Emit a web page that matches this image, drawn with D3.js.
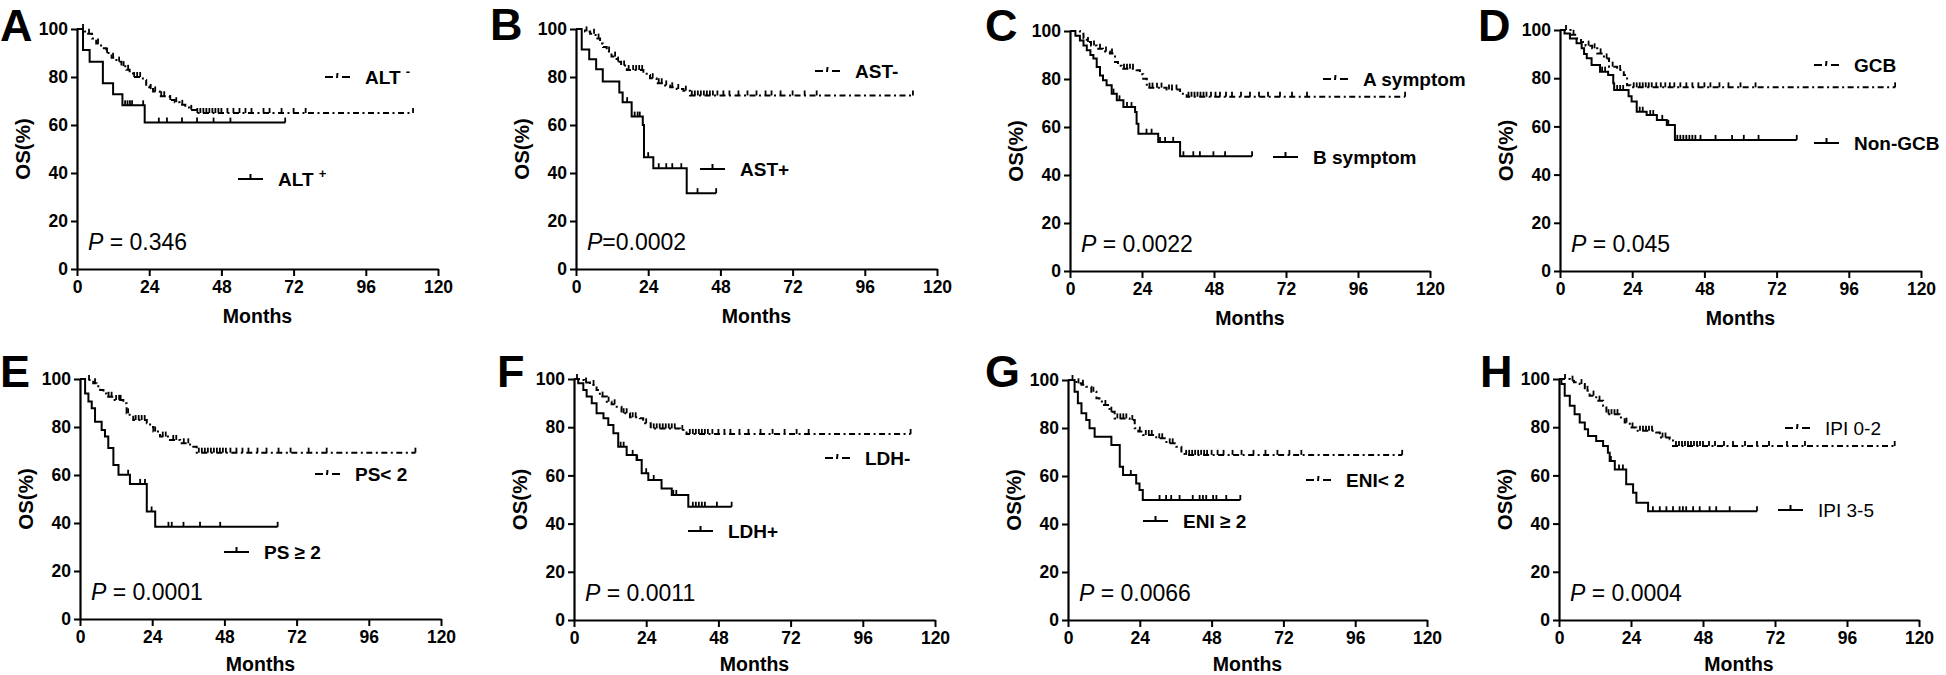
<!doctype html>
<html lang="en">
<head>
<meta charset="utf-8">
<title>Overall survival by subgroup</title>
<style>
  body { margin: 0; background: #fff; }
  svg { display: block; font-family: "Liberation Sans", Arial, sans-serif; }
</style>
</head>
<body>
<script src="https://d3js.org/d3.v7.min.js"></script>
<script>
// ---- data: [month, OS%] steps, censor months ----
var xTicks = [0, 24, 48, 72, 96, 120];
var yTicks = [0, 20, 40, 60, 80, 100];

var altNegSteps = [[0,100],[2.5,99],[3.7,98],[5,96],[6.4,94],[8,92],[9.8,90],[11.5,88],[13.1,86.4],[14.8,84.5],[16.4,83],[17.5,81.5],[18.6,80],[21.9,78.8],[23,76],[24,75],[25.3,74],[27.5,72],[30.8,70.4],[32.5,69.5],[34.1,68.4],[36,67.3],[37.5,66.3],[39.7,65]];
var altNegCensor = [2,4,7,10,12,14,15.5,17,19,20,21,24.5,26,28,29,31,33,35,38,40,41,42,43,44,45,46,47,48,50,52,54,56,58,62,64,68,72,76,111.7];
var altPosSteps = [[0,100],[2,91.3],[4.2,86.4],[8.6,77.4],[12,72.8],[15.1,68.2],[22.5,61]];
var altPosCensor = [16,16.8,17.6,18.3,22,27.2,29.9,34.9,39.9,45.4,51,69.2];

var astNegSteps = [[0,100],[3,99],[4.7,98],[6.5,96],[8,94],[9,92.5],[10.2,90.6],[11.8,88.5],[13.5,86.4],[15,84.8],[16.9,82.9],[22.4,82.2],[23.5,80.8],[24.6,79.5],[26.8,77.4],[29,76.5],[31.3,75.7],[33.5,75],[35.7,74.3],[37.9,72.3]];
var astNegCensor = [3.5,6,7.5,11,13,14,16,17.5,19,20,21,22,25.5,27.5,28.5,30,32,34,36.5,38.5,39.5,40.5,41.5,42.5,43.5,44.5,45.5,47,49,51,54,57,60,63,65,68,72,76,80,112];
var astPosSteps = [[0,100],[1.9,91.5],[4.4,87.4],[6.7,83.2],[8.9,78.1],[14.4,73.5],[15.5,69.5],[18.5,63.5],[22.2,60],[22.6,46.6],[25.7,42],[36.8,31.6]];
var astPosCensor = [17,19.5,20.5,21.2,24,27.5,30,32,35,40.4,46.6];

var aSymSteps = [[0,100],[3.3,98.9],[4.5,97],[5.6,95.4],[7,94],[8.9,92.6],[11,91.5],[13.3,90.6],[15,87.1],[16,85.5],[17.2,84.3],[22.2,83.6],[23.3,82],[24.4,80.1],[25.6,76.4],[32.2,75.6],[36.7,73.9],[38.9,72.6]];
var aSymCensor = [6,8,10,12,14,18,19,20,21,26.5,27.5,29,30.5,33,34,35.5,39.5,40.5,41.5,42.5,43.5,44.5,45.5,47,48.5,50,52,54,57,60,63,66,70,74,79,111.7];
var bSymSteps = [[0,100],[1.8,98],[3.3,96],[4.5,94],[5.6,92],[6.8,90],[7.8,88.5],[8.9,85],[10,81.5],[11,79.5],[12.2,77.4],[13.9,73.9],[15.6,71.1],[17.8,68.3],[21.7,66.3],[22.2,61.4],[22.8,57.2],[29.4,53.8],[36.7,47.8]];
var bSymCensor = [14.5,16.5,19,20.5,25.5,27.2,30,31.7,34.4,37.8,41.1,43.3,47.8,51.7,60.7];

var gcbSteps = [[0,100],[3.5,98],[5.5,96.5],[7,95],[8.5,93.5],[10.7,92.4],[12.4,90.3],[14.6,88.2],[16.3,84.8],[19,83.4],[21.2,81.3],[22.3,77.1],[23.4,76.2]];
var gcbCensor = [2,4.5,9.5,11.5,13.5,15.5,17.5,20,24.5,25.5,26.5,27.5,28.5,29.5,30.5,32,33.5,35,36.5,38,40,42,44,46,48,50,53,56,60,65,111.4];
var nonGcbSteps = [[0,100],[1.5,98.5],[3.3,96.5],[5.5,94.5],[7.2,92.4],[8,90],[8.9,88.3],[10.5,85.5],[13.3,82.7],[16,81.3],[17.7,77.9],[18,75.1],[22.8,72.5],[23.8,70.3],[25.5,66.1],[28.8,64.7],[32.2,62.7],[35.5,60.6],[38.2,54.4]];
var nonGcbCensor = [14,15,19,20,21,26.5,27.5,30,31,34,36,39,40,41,42,43,44,45,46.7,51.7,57.2,61.1,66,78.7];

var psLowSteps = [[0,100],[2.2,99.6],[4.4,98.2],[5.5,97],[6.7,95.4],[7.8,94],[8.9,92.6],[11.1,91.3],[14.4,89.9],[15.5,85.7],[16.5,84.3],[17.7,82.9],[22.2,81.6],[23.3,80],[24.4,78.1],[26.6,76],[29.9,74.6],[33.3,73.2],[36.6,71.8],[38.8,69.3]];
var psLowCensor = [3,5,9.5,10.5,12,13,13.5,16,18.5,19.5,20.5,21.5,25,27.5,28.5,31,32,34.5,36,39.5,40.5,41.5,42.5,43.5,44.5,45.5,46.5,47.5,48.5,50,52,54,56,59,62,66,70,76,82,111.5];
var psHighSteps = [[0,100],[1.7,94],[2.8,90.6],[3.9,87.8],[5,82.2],[7.2,78.8],[8.3,76],[9.4,71.2],[11.1,64.2],[12.8,60.1],[16.6,56.3],[22.2,44.8],[25,38.4]];
var psHighCensor = [16,20,21.6,23.8,29.4,30.5,34.4,39.9,46.6,65.7];

var ldhNegSteps = [[0,100],[2,99.6],[3.5,98.5],[5.3,97.5],[7.5,95.4],[8.6,92.7],[10.9,90.6],[12.5,89.5],[14.2,88.5],[15.8,85.8],[18.6,84.1],[21.9,83.7],[23,81.6],[25.5,79.5],[35.2,78.8],[37.4,77.2]];
var ldhNegCensor = [1,4,6.5,9.5,11.5,13.5,16.5,17.5,19.5,20.5,24,26.5,27.5,28.5,29.5,30.5,31.5,32.5,33.5,36,38.5,39.5,40.5,41.5,42.5,43.5,44.5,46,48,50,52,55,58,62,66,70,74,78,111.9];
var ldhPosSteps = [[0,100],[1.4,98.2],[3.1,95.4],[4.2,92.7],[5.9,89.9],[7.5,85.8],[9.8,83.7],[11.4,80.9],[13.1,77.5],[14.7,71.9],[17.5,68.5],[20.8,66.4],[22.5,60.9],[24.7,58.1],[29.1,54.6],[32.5,51.9],[38,47]];
var ldhPosCensor = [15.5,16.5,19.5,21,24,26.5,33,34,39.5,40.5,41.5,42.5,43.5,47.5,52.4];

var eniLowSteps = [[0,100],[2.8,98.6],[4.5,98],[6.1,97.2],[7.8,95.1],[9.5,92.4],[10.5,91],[11.7,89.6],[13.9,86.8],[15.6,84],[20.6,83.3],[22.3,79.9],[23.5,78.5],[25.1,77.1],[29.5,75.7],[32.9,73.6],[36.2,72.2],[37.9,69.2],[39,68.8]];
var eniLowCensor = [1.5,3.5,5,8.5,12.5,14.5,16.5,17.5,18.5,19.5,21.5,24,26,27,28,30.5,31.5,34,35,39.5,40.5,41.5,42.5,43.5,44.5,45.5,46.5,48,50,52,55,58,62,66,70,74,78,111.7];
var eniHighSteps = [[0,100],[2.2,95.1],[3.3,90.3],[4.5,86.1],[6.1,83.3],[7.2,79.9],[8.9,76.4],[14.5,72.9],[17.3,63.9],[18.4,60.4],[22.8,56.9],[23.9,54.2],[25,50]];
var eniHighCensor = [21,30.6,32.8,34.5,37.3,41.7,44,45.1,46.2,48.5,49.6,52.9,57.6];

var ipiLowSteps = [[0,100],[3.6,99.3],[5,98.6],[6.9,97.9],[8.6,95.1],[10.2,93.1],[12.4,91],[14.7,88.9],[15.8,85.4],[20.2,84],[21.9,81.9],[23.6,79.9],[25.8,78.5],[32.4,77.8],[33.6,75.7],[36.9,75],[38,72.2]];
var ipiLowCensor = [2,4.5,7.5,9.5,11.5,13.5,16.5,17.5,18.5,19.5,22.5,24.5,27,28,29,30,31,34.5,35.5,39,40,41,42,43,44,45,46,47,48,50,52,55,58,62,66,70,76,82,111.9];
var ipiHighSteps = [[0,100],[0.8,97.9],[1.9,93.1],[3.6,88.9],[5.2,85.4],[6.9,81.9],[8.6,79.2],[9.7,76.4],[12.4,74.3],[14.7,72.2],[16.3,69.4],[16.9,66],[18.6,62.5],[22.4,56.3],[24.7,52.8],[25.8,48.6],[29.7,45.1]];
var ipiHighCensor = [17.3,20,21.3,31.3,33.6,35.8,38,40.2,41.3,42.4,44.7,46.9,50.2,52.4,56.9,66];

// ---- panels: layout + which arrays they draw ----
var panels = [
  {letter: "A", lx: 0, ly: 41, x0: 77, x1: 438, y0: 29, y1: 269, p: "0.346", eq: " = ",
   curves: [
     {steps: altNegSteps, censor: altNegCensor, dashed: true, label: "ALT ", sup: "-", lgx: 248, lgy: 48},
     {steps: altPosSteps, censor: altPosCensor, dashed: false, label: "ALT ", sup: "+", lgx: 161, lgy: 150}]},
  {letter: "B", lx: 490, ly: 40, x0: 576, x1: 937, y0: 29, y1: 269, p: "0.0002", eq: "=",
   curves: [
     {steps: astNegSteps, censor: astNegCensor, dashed: true, label: "AST-", lgx: 239, lgy: 42},
     {steps: astPosSteps, censor: astPosCensor, dashed: false, label: "AST+", lgx: 124, lgy: 140}]},
  {letter: "C", lx: 985, ly: 41, x0: 1070, x1: 1430, y0: 31, y1: 271, p: "0.0022", eq: " = ",
   curves: [
     {steps: aSymSteps, censor: aSymCensor, dashed: true, label: "A symptom", lgx: 253, lgy: 48},
     {steps: bSymSteps, censor: bSymCensor, dashed: false, label: "B symptom", lgx: 203, lgy: 126}]},
  {letter: "D", lx: 1478, ly: 41, x0: 1560, x1: 1921, y0: 30, y1: 271, p: "0.045", eq: " = ",
   curves: [
     {steps: gcbSteps, censor: gcbCensor, dashed: true, label: "GCB", lgx: 254, lgy: 35},
     {steps: nonGcbSteps, censor: nonGcbCensor, dashed: false, label: "Non-GCB", lgx: 254, lgy: 113}]},
  {letter: "E", lx: 0, ly: 387, x0: 80, x1: 441, y0: 379, y1: 619, p: "0.0001", eq: " = ",
   curves: [
     {steps: psLowSteps, censor: psLowCensor, dashed: true, label: "PS< 2", lgx: 235, lgy: 95},
     {steps: psHighSteps, censor: psHighCensor, dashed: false, label: "PS \u2265 2", lgx: 144, lgy: 173}]},
  {letter: "F", lx: 497, ly: 387, x0: 574, x1: 935, y0: 379, y1: 620, p: "0.0011", eq: " = ",
   curves: [
     {steps: ldhNegSteps, censor: ldhNegCensor, dashed: true, label: "LDH-", lgx: 251, lgy: 79},
     {steps: ldhPosSteps, censor: ldhPosCensor, dashed: false, label: "LDH+", lgx: 114, lgy: 152}]},
  {letter: "G", lx: 985, ly: 387, x0: 1068, x1: 1427, y0: 380, y1: 620, p: "0.0066", eq: " = ",
   curves: [
     {steps: eniLowSteps, censor: eniLowCensor, dashed: true, label: "ENI< 2", lgx: 238, lgy: 100},
     {steps: eniHighSteps, censor: eniHighCensor, dashed: false, label: "ENI \u2265 2", lgx: 75, lgy: 141}]},
  {letter: "H", lx: 1480, ly: 387, x0: 1559, x1: 1919, y0: 379, y1: 620, p: "0.0004", eq: " = ", light: true,
   curves: [
     {steps: ipiLowSteps, censor: ipiLowCensor, dashed: true, label: "IPI 0-2", lgx: 226, lgy: 49},
     {steps: ipiHighSteps, censor: ipiHighCensor, dashed: false, label: "IPI 3-5", lgx: 219, lgy: 131}]}
];

var svg = d3.select("body").append("svg")
    .attr("width", 1946)
    .attr("height", 675);

var dash = "6,3.5,2,3.5";

function survAt(steps, t) {
  var s = steps[0][1];
  steps.forEach(function(d) { if (d[0] <= t) s = d[1]; });
  return s;
}

panels.forEach(function(p) {
  var x = d3.scaleLinear().domain([0, 120]).range([p.x0, p.x1]);
  var y = d3.scaleLinear().domain([0, 100]).range([p.y1, p.y0]);
  var g = svg.append("g");

  // axes
  var xa = g.append("g")
      .attr("transform", "translate(0," + p.y1 + ")")
      .call(d3.axisBottom(x).tickValues(xTicks).tickSize(7).tickSizeOuter(0).tickPadding(5));
  var ya = g.append("g")
      .attr("transform", "translate(" + p.x0 + ",0)")
      .call(d3.axisLeft(y).tickValues(yTicks).tickSize(6).tickSizeOuter(0).tickPadding(3));
  [xa, ya].forEach(function(a) {
    a.attr("font-family", null).attr("font-size", null);
    a.select(".domain").attr("stroke", "#000").attr("stroke-width", 2.2);
    a.selectAll(".tick line").attr("stroke", "#000").attr("stroke-width", 2);
    a.selectAll(".tick text").attr("fill", "#000")
      .style("font-size", "17.5px").style("font-weight", "bold");
  });

  g.append("text")
      .attr("x", (p.x0 + p.x1) / 2).attr("y", Math.min(p.y1 + 54, 671))
      .attr("text-anchor", "middle")
      .style("font-size", "19.5px").style("font-weight", "bold")
      .text("Months");
  g.append("text")
      .attr("transform", "translate(" + (p.x0 - 47) + "," + ((p.y0 + p.y1) / 2) + ") rotate(-90)")
      .attr("text-anchor", "middle")
      .style("font-size", "20.5px").style("font-weight", "bold")
      .text("OS(%)");
  g.append("text")
      .attr("x", p.lx).attr("y", p.ly)
      .style("font-size", "45px").style("font-weight", "bold")
      .text(p.letter);

  var pt = g.append("text")
      .attr("x", p.x0 + 11).attr("y", p.y1 - 19)
      .style("font-size", "23px");
  pt.append("tspan").style("font-style", "italic").text("P");
  pt.append("tspan").text(p.eq + p.p);

  var line = d3.line()
      .x(function(d) { return x(d[0]); })
      .y(function(d) { return y(d[1]); })
      .curve(d3.curveStepAfter);

  p.curves.forEach(function(c) {
    var last = c.steps[c.steps.length - 1];
    var end = d3.max(c.censor);
    var pts = c.steps.concat([[end, last[1]]]);
    g.append("path")
        .attr("d", line(pts))
        .attr("fill", "none")
        .attr("stroke", "#000")
        .attr("stroke-width", 2)
        .attr("stroke-dasharray", c.dashed ? dash : null);
    g.selectAll(null)
        .data(c.censor)
        .enter().append("line")
        .attr("x1", function(t) { return x(t); })
        .attr("x2", function(t) { return x(t); })
        .attr("y1", function(t) { return y(survAt(c.steps, t)); })
        .attr("y2", function(t) { return y(survAt(c.steps, t)) - 5; })
        .attr("stroke", "#000")
        .attr("stroke-width", 1.8);

    // legend
    var lx = p.x0 + c.lgx, ly = p.y0 + c.lgy;
    var lg = g.append("g").attr("stroke", "#000").attr("stroke-width", 2);
    if (c.dashed) {
      lg.append("line").attr("x1", lx).attr("x2", lx + 8).attr("y1", ly).attr("y2", ly);
      lg.append("line").attr("x1", lx + 17).attr("x2", lx + 25).attr("y1", ly).attr("y2", ly);
      lg.append("line").attr("x1", lx + 12.5).attr("x2", lx + 12).attr("y1", ly - 4).attr("y2", ly + 1);
    } else {
      lg.append("line").attr("x1", lx).attr("x2", lx + 25).attr("y1", ly).attr("y2", ly);
      lg.append("line").attr("x1", lx + 12.5).attr("x2", lx + 12.5).attr("y1", ly - 5).attr("y2", ly);
    }
    var lt = g.append("text")
        .attr("x", lx + 40).attr("y", ly + 7)
        .style("font-size", "19px")
        .style("font-weight", p.light ? "normal" : "bold");
    lt.append("tspan").text(c.label);
    if (c.sup) {
      lt.append("tspan").attr("dy", -8).style("font-size", "13px").text(c.sup);
    }
  });
});
</script>
</body>
</html>
